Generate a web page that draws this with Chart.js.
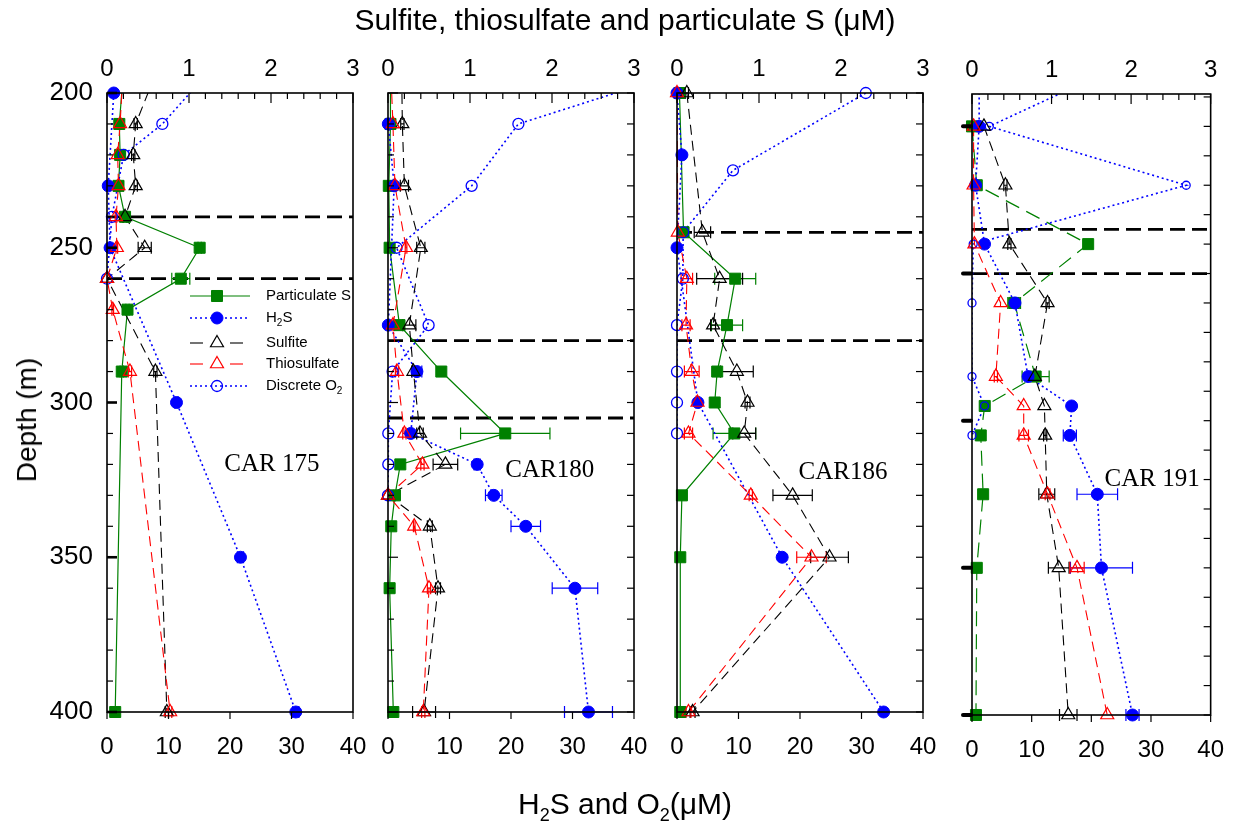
<!DOCTYPE html>
<html>
<head>
<meta charset="utf-8">
<title>Sulfur species profiles</title>
<script src="https://cdn.jsdelivr.net/npm/chart.js@4.4.1/dist/chart.umd.min.js"></script>
<style>
html,body{margin:0;padding:0;background:#fff;}
#wrap{position:relative;width:1245px;height:834px;overflow:hidden;font-family:"Liberation Sans",Arial,sans-serif;color:#000;}
#wrap canvas{position:absolute;left:0;top:0;width:1245px;height:834px;}
.txt{position:absolute;white-space:nowrap;}
.sb{font-size:0.6em;position:relative;top:0.38em;}
#topTitle{left:625px;top:4px;font-size:30px;line-height:32px;transform:translateX(-50%);}
#botTitle{left:625px;top:788px;font-size:30px;line-height:32px;transform:translateX(-50%);}
#yTitle{left:27px;top:420px;font-size:28px;line-height:30px;transform:translate(-50%,-50%) rotate(-90deg);}
</style>
</head>
<body>
<div id="wrap">
  <canvas id="p175" width="1245" height="834"></canvas>
  <canvas id="p180" width="1245" height="834"></canvas>
  <canvas id="p186" width="1245" height="834"></canvas>
  <canvas id="p191" width="1245" height="834"></canvas>
  <div class="txt" id="topTitle">Sulfite, thiosulfate and particulate S (μM)</div>
  <div class="txt" id="botTitle">H<span class="sb">2</span>S and O<span class="sb">2</span>(μM)</div>
  <div class="txt" id="yTitle">Depth (m)</div>
</div>
<script>
// ---------------- DATA ----------------
// Top axis (0-3 µM): particulate S, sulfite, thiosulfate. Bottom axis (0-40 µM): H2S, O2.
const topTicks = [0, 1, 2, 3];
const botTicks = [0, 10, 20, 30, 40];
const depthTicks = [200, 250, 300, 350, 400];

// CAR 175  (first row lies just above the plotted range)
const depth175    = [190, 200, 210, 220, 230, 240, 250, 260, 270, 290, 300, 350, 400];
const partS175    = [0.21, null, 0.15, 0.16, 0.14, 0.22, 1.13, 0.90, 0.25, 0.18, null, null, 0.10];
const partSErr175 = [null, null, 0.02, 0.02, 0.02, 0.03, 0.02, 0.11, 0.02, 0.02, null, null, 0.02];
const h2s175      = [null, 1.1, null, null, 0.2, null, 0.5, null, null, null, 11.3, 21.7, 30.7];
const h2sErr175   = [null, null, null, null, null, null, null, null, null, null, 0.3, 0.5, 0.5];
const sulf175     = [0.65, null, 0.35, 0.32, 0.35, 0.22, 0.46, 0.0, null, 0.59, null, null, 0.73];
const sulfErr175  = [null, null, 0.02, 0.02, 0.02, 0.02, 0.08, null, null, 0.02, null, null, 0.02];
const thio175     = [0.20, null, 0.16, 0.13, 0.14, 0.11, 0.12, 0.0, 0.07, 0.28, null, null, 0.77];
const thioErr175  = [null, null, 0.01, 0.01, 0.01, 0.01, 0.01, null, 0.01, 0.02, null, null, 0.02];
const o2175       = [18.0, null, 9.0, 2.7, null, 0.8, null, 0.0, null, null, null, null, null];
const dashed175   = [240, 260];

// CAR 180
const depth180    = [190, 210, 230, 250, 275, 290, 310, 320, 330, 340, 360, 400];
const partS180    = [0.03, 0.03, 0.01, 0.02, 0.14, 0.65, 1.43, 0.15, 0.085, 0.04, 0.02, 0.065];
const partSErr180 = [null, null, null, null, null, null, 0.545, null, null, null, null, 0.05];
const h2s180      = [null, 0.05, 1.0, null, 0.05, 4.7, 3.7, 14.5, 17.2, 22.4, 30.4, 32.6];
const h2sErr180   = [null, null, null, null, null, 0.8, null, 0.5, 1.35, 2.4, 3.7, 3.9];
const sulf180     = [0.165, 0.175, 0.2, 0.40, 0.26, 0.31, 0.39, 0.70, 0.0, 0.51, 0.61, 0.44];
const sulfErr180  = [null, 0.02, 0.05, 0.05, 0.08, 0.02, 0.04, 0.15, null, 0.03, 0.03, 0.14];
const thio180     = [0.03, 0.06, 0.085, 0.22, 0.06, 0.11, 0.2, 0.42, 0.0, 0.32, 0.50, 0.43];
const thioErr180  = [null, 0.01, 0.01, 0.01, 0.01, 0.02, 0.02, 0.02, null, 0.01, 0.02, 0.02];
const o2180       = [52.8, 21.2, 13.6, 1.4, 6.6, 0.75, 0.05, 0.05, 0.0, null, null, null];
const dashed180   = [280, 305];

// CAR 186
const depth186    = [200, 220, 225, 245, 250, 260, 275, 290, 300, 310, 330, 350, 400];
const partS186    = [0.03, null, null, 0.08, null, 0.71, 0.61, 0.49, 0.46, 0.70, 0.06, 0.04, 0.04];
const partSErr186 = [null, null, null, null, null, 0.25, 0.19, null, null, 0.26, null, null, null];
const h2s186      = [0.0, 0.8, null, null, 0.0, null, null, null, 3.4, null, null, 17.1, 33.6];
const h2sErr186   = [null, null, null, null, null, null, null, null, null, null, null, null, null];
const sulf186     = [0.12, null, null, 0.31, null, 0.52, 0.44, 0.73, 0.86, 0.82, 1.41, 1.86, 0.19];
const sulfErr186  = [0.02, null, null, 0.10, null, 0.28, 0.03, 0.20, 0.03, 0.14, 0.24, 0.23, 0.03];
const thio186     = [0.0, null, null, 0.01, null, 0.12, 0.11, 0.18, 0.25, 0.14, 0.90, 1.64, 0.14];
const thioErr186  = [null, null, null, null, null, 0.07, 0.05, 0.09, 0.02, 0.05, 0.02, 0.18, 0.03];
const o2186       = [30.7, null, 9.1, 1.0, null, 0.95, 0.0, 0.0, 0.0, 0.0, null, null, null];
const dashed186   = [245, 280];

// CAR 191 (own depth axis, 189-400 m; first row lies above it)
const depth191    = [180, 200, 220, 240, 260, 285, 295, 305, 325, 350, 400];
const partS191    = [null, 0.0, 0.06, 1.46, 0.53, 0.80, 0.16, 0.11, 0.14, 0.06, 0.05];
const partSErr191 = [null, null, null, null, 0.08, 0.17, null, null, null, null, null];
const h2s191      = [1.2, 1.2, 0.6, 2.1, 7.2, 9.4, 16.7, 16.4, 21.0, 21.7, 26.9];
const h2sErr191   = [null, null, null, null, null, null, null, 1.1, 3.4, 5.2, 1.1];
const sulf191     = [null, 0.15, 0.42, 0.47, 0.95, 0.79, 0.91, 0.92, 0.94, 1.09, 1.21];
const sulfErr191  = [null, null, 0.02, 0.02, 0.02, null, null, 0.02, 0.10, 0.13, 0.11];
const thio191     = [null, 0.02, 0.02, 0.03, 0.36, 0.30, 0.65, 0.65, 0.95, 1.32, 1.70];
const thioErr191  = [null, null, null, null, null, 0.02, null, 0.06, 0.03, 0.09, null];
const o2191       = [24.2, 2.9, 35.9, 0.2, 0.0, 0.0, 2.1, 0.0, null, null, null];
const dashed191   = [235, 250];

const legendItems = ['Particulate S', 'H2S', 'Sulfite', 'Thiosulfate', 'Discrete O2'];

// ---------------- RENDERING ----------------
Chart.defaults.font.family = '"Liberation Sans", Arial, sans-serif';
Chart.defaults.color = '#000';
Chart.defaults.animation = false;

const GREEN = '#008000', BLUE = '#0000ff', RED = '#ff0000', BLACK = '#000000';
const TOP_BOX = 50, BOT_BOX = 60, LEFT_BOX = 70;

function marker(ctx, style, x, y, r) {
  ctx.beginPath();
  if (style === 'rect') {
    const s = r * Math.SQRT1_2;
    ctx.rect(x - s, y - s, 2 * s, 2 * s);
  } else if (style === 'triangle') {
    let rad = 0;
    ctx.moveTo(x + Math.sin(rad) * r, y - Math.cos(rad) * r);
    rad += 2 * Math.PI / 3;
    ctx.lineTo(x + Math.sin(rad) * r, y - Math.cos(rad) * r);
    rad += 2 * Math.PI / 3;
    ctx.lineTo(x + Math.sin(rad) * r, y - Math.cos(rad) * r);
    ctx.closePath();
  } else {
    ctx.arc(x, y, r, 0, Math.PI * 2);
  }
  ctx.fill();
  ctx.stroke();
}

function subText(ctx, parts, x, y, size) {
  let cx = x;
  parts.forEach(([t, sub]) => {
    ctx.font = (sub ? Math.round(size * 0.65) : size) + 'px "Liberation Sans", Arial, sans-serif';
    ctx.fillText(t, cx, sub ? y + size * 0.35 : y);
    cx += ctx.measureText(t).width;
  });
}

const decorPlugin = {
  id: 'decor',
  beforeDatasetsDraw(chart, args, o) {
    const ctx = chart.ctx, a = chart.chartArea, ys = chart.scales.y;
    ctx.save();
    ctx.beginPath();
    ctx.rect(a.left, a.top, a.right - a.left, a.bottom - a.top);
    ctx.clip();
    ctx.setLineDash([15, 7]);
    ctx.lineWidth = 2.8;
    ctx.strokeStyle = '#000';
    (o.dashed || []).forEach(d => {
      const y = ys.getPixelForValue(d);
      ctx.beginPath(); ctx.moveTo(a.left, y); ctx.lineTo(a.right, y); ctx.stroke();
    });
    ctx.restore();
    // error bars
    ctx.save();
    ctx.setLineDash([]);
    ctx.lineWidth = 1.2;
    chart.data.datasets.forEach(ds => {
      if (!ds.errColor) return;
      const xs = chart.scales[ds.xAxisID];
      ctx.strokeStyle = ds.errColor;
      ds.data.forEach(p => {
        if (p.e === null || p.e === undefined) return;
        const y = ys.getPixelForValue(p.y);
        const x1 = xs.getPixelForValue(p.x - p.e), x2 = xs.getPixelForValue(p.x + p.e);
        ctx.beginPath();
        ctx.moveTo(x1, y); ctx.lineTo(x2, y);
        ctx.moveTo(x1, y - 6); ctx.lineTo(x1, y + 6);
        ctx.moveTo(x2, y - 6); ctx.lineTo(x2, y + 6);
        ctx.stroke();
      });
    });
    ctx.restore();
  },
  afterDraw(chart, args, o) {
    const ctx = chart.ctx, a = chart.chartArea, ys = chart.scales.y;
    const xt = chart.scales.xTop, xb = chart.scales.xBot;
    const seg = (x1, y1, x2, y2) => { ctx.beginPath(); ctx.moveTo(x1, y1); ctx.lineTo(x2, y2); ctx.stroke(); };
    ctx.save();
    ctx.setLineDash([]);
    ctx.strokeStyle = '#000';
    ctx.lineWidth = 1.6;
    ctx.strokeRect(a.left, a.top, a.right - a.left, a.bottom - a.top);
    // top ticks, inward
    ctx.lineWidth = 1.2;
    for (let k = 0; k <= 15; k++) {
      const x = xt.getPixelForValue(k * 0.2);
      seg(x, a.top, x, a.top + (k % 5 === 0 ? 10 : 6));
    }
    // bottom ticks, outward
    botTicks.forEach(v => { const x = xb.getPixelForValue(v); seg(x, a.bottom, x, a.bottom + 7); });
    // depth ticks
    for (let d = Math.ceil(ys.min / 10) * 10; d <= ys.max; d += 10) {
      const y = ys.getPixelForValue(d);
      const major = d % 50 === 0;
      if (o.leftTicks) {
        ctx.lineWidth = (major && o.leftMajorBold) ? 2.6 : 1.2;
        seg(a.left, y, a.left + (major ? 10 : 6), y);
      }
      if (o.rightTicks) { ctx.lineWidth = 1.2; seg(a.right - 7, y, a.right, y); }
      if (o.leftOut && major) {
        ctx.lineWidth = 4; ctx.lineCap = 'round';
        seg(a.left - 9, y, a.left - 1, y);
        ctx.lineCap = 'butt';
      }
    }
    // cruise label
    ctx.fillStyle = '#000';
    ctx.font = '25px "Liberation Serif", "Times New Roman", serif';
    ctx.textAlign = 'center';
    ctx.textBaseline = 'middle';
    ctx.fillText(o.label, xb.getPixelForValue(o.labelAt.x), ys.getPixelForValue(o.labelAt.y));
    // legend
    if (o.legend) {
      const L = o.legend;
      const rows = L.rows;
      ctx.textAlign = 'left';
      ctx.textBaseline = 'middle';
      ctx.strokeStyle = GREEN; ctx.fillStyle = GREEN; ctx.lineWidth = 1.2; ctx.setLineDash([]);
      seg(L.x0, rows[0], L.x1, rows[0]);
      ctx.lineWidth = 1; marker(ctx, 'rect', L.xm, rows[0], 7.8);
      ctx.strokeStyle = BLUE; ctx.fillStyle = BLUE; ctx.lineWidth = 1.6; ctx.setLineDash([2, 3]);
      seg(L.x0, rows[1], L.x1, rows[1]);
      ctx.setLineDash([]); ctx.lineWidth = 1; marker(ctx, 'circle', L.xm, rows[1], 6);
      ctx.strokeStyle = BLACK; ctx.fillStyle = 'rgba(0,0,0,0)'; ctx.lineWidth = 1.1;
      seg(L.x0, rows[2], L.x0 + 13, rows[2]); seg(L.xm + 13, rows[2], L.xm + 26, rows[2]);
      ctx.lineWidth = 1.2; marker(ctx, 'triangle', L.xm, rows[2], 7.5);
      ctx.strokeStyle = RED; ctx.lineWidth = 1.1;
      seg(L.x0, rows[3], L.x0 + 13, rows[3]); seg(L.xm + 13, rows[3], L.xm + 26, rows[3]);
      ctx.lineWidth = 1.2; marker(ctx, 'triangle', L.xm, rows[3], 7.5);
      ctx.strokeStyle = BLUE; ctx.lineWidth = 1.6; ctx.setLineDash([2, 3]);
      seg(L.x0, rows[4], L.x1 - 3, rows[4]);
      ctx.setLineDash([]); ctx.lineWidth = 1.3; ctx.fillStyle = 'rgba(0,0,0,0)';
      marker(ctx, 'circle', L.xm, rows[4], 5.5);
      ctx.fillStyle = '#000';
      subText(ctx, [[legendItems[0], false]], L.xt, rows[0], 15);
      subText(ctx, [['H', false], ['2', true], ['S', false]], L.xt, rows[1], 15);
      subText(ctx, [[legendItems[2], false]], L.xt, rows[2], 15);
      subText(ctx, [[legendItems[3], false]], L.xt, rows[3], 15);
      subText(ctx, [['Discrete O', false], ['2', true]], L.xt, rows[4], 15);
    }
    ctx.restore();
  }
};
Chart.register(decorPlugin);

function buildPanel(P) {
  const inRange = d => d >= P.yMin && d <= P.yMax;
  const series = [
    {key: 'Particulate S', vals: P.partS, errs: P.partSErr, axis: 'xTop', color: GREEN, dash: P.partSDash, lw: 1.2, style: 'rect', r: 7.8, fill: GREEN, bw: 1, order: 4},
    {key: 'Discrete O2', vals: P.o2, errs: null, axis: 'xBot', color: BLUE, dash: [2, 3], lw: 1.6, style: 'circle', r: P.o2R, fill: 'rgba(0,0,0,0)', bw: 1.3, order: 3},
    {key: 'H2S', vals: P.h2s, errs: P.h2sErr, axis: 'xBot', color: BLUE, dash: [2, 3], lw: 1.6, style: 'circle', r: 6, fill: BLUE, bw: 1, order: 2},
    {key: 'Sulfite', vals: P.sulf, errs: P.sulfErr, axis: 'xTop', color: BLACK, dash: [10, 6], lw: 1.1, style: 'triangle', r: 7.5, fill: 'rgba(0,0,0,0)', bw: 1.2, order: 1},
    {key: 'Thiosulfate', vals: P.thio, errs: P.thioErr, axis: 'xTop', color: RED, dash: [10, 6], lw: 1.1, style: 'triangle', r: 7.5, fill: 'rgba(0,0,0,0)', bw: 1.2, order: 0}
  ];
  const datasets = [];
  series.forEach(s => {
    const line = [], pts = [];
    P.depth.forEach((d, i) => {
      const v = s.vals[i];
      if (v === null || v === undefined) return;
      line.push({x: v, y: d});
      if (inRange(d)) pts.push({x: v, y: d, e: s.errs ? s.errs[i] : null});
    });
    datasets.push({
      label: s.key + ' line', data: line, xAxisID: s.axis, yAxisID: 'y',
      showLine: true, borderColor: s.color, borderWidth: s.lw, borderDash: s.dash,
      pointRadius: 0, pointHoverRadius: 0, order: 100 + s.order, tension: 0, fill: false
    });
    datasets.push({
      label: s.key, data: pts, xAxisID: s.axis, yAxisID: 'y', showLine: false,
      pointStyle: s.style, pointRadius: s.r, pointHoverRadius: s.r,
      pointBackgroundColor: s.fill, pointBorderColor: s.color, pointBorderWidth: s.bw,
      order: s.order, clip: false, errColor: s.color
    });
  });
  const A = P.area;
  return new Chart(document.getElementById(P.id), {
    type: 'scatter',
    data: {datasets},
    options: {
      responsive: false,
      devicePixelRatio: 1,
      animation: false,
      events: [],
      layout: {padding: {left: A.left - LEFT_BOX, right: 1245 - A.right, top: A.top - TOP_BOX, bottom: 834 - A.bottom - BOT_BOX}},
      plugins: {
        legend: {display: false},
        tooltip: {enabled: false},
        decor: P.decor
      },
      scales: {
        xTop: {
          type: 'linear', position: 'top', min: topTicks[0], max: topTicks[topTicks.length - 1],
          afterBuildTicks: s => { s.ticks = topTicks.map(v => ({value: v})); },
          ticks: {padding: 9, font: {size: 24}, maxRotation: 0, autoSkip: false, color: '#000'},
          grid: {display: false, drawTicks: false}, border: {display: false},
          afterFit: s => { s.height = TOP_BOX; }
        },
        xBot: {
          type: 'linear', position: 'bottom', min: botTicks[0], max: botTicks[botTicks.length - 1],
          afterBuildTicks: s => { s.ticks = botTicks.map(v => ({value: v})); },
          ticks: {padding: 21, font: {size: 24}, maxRotation: 0, autoSkip: false, color: '#000'},
          grid: {display: false, drawTicks: false}, border: {display: false},
          afterFit: s => { s.height = BOT_BOX; }
        },
        y: {
          type: 'linear', position: 'left', reverse: true, min: P.yMin, max: P.yMax,
          afterBuildTicks: s => { s.ticks = depthTicks.map(v => ({value: v})); },
          ticks: {display: P.showY, padding: 14, font: {size: 26}, autoSkip: false, color: '#000'},
          grid: {display: false, drawTicks: false}, border: {display: false},
          afterFit: s => { s.width = LEFT_BOX; }
        }
      }
    }
  });
}

const legendBox = {x0: 190, x1: 250, xm: 217, xt: 266, rows: [296, 318, 343, 364, 386]};

buildPanel({
  id: 'p175', area: {left: 107, right: 353, top: 93, bottom: 712}, yMin: 200, yMax: 400, showY: true,
  depth: depth175, partS: partS175, partSErr: partSErr175, h2s: h2s175, h2sErr: h2sErr175,
  sulf: sulf175, sulfErr: sulfErr175, thio: thio175, thioErr: thioErr175, o2: o2175,
  partSDash: [], o2R: 5.5,
  decor: {dashed: dashed175, label: 'CAR 175', labelAt: {x: 26.8, y: 320}, leftTicks: true, leftMajorBold: true, rightTicks: false, leftOut: false, legend: legendBox}
});
buildPanel({
  id: 'p180', area: {left: 388, right: 634, top: 93, bottom: 712}, yMin: 200, yMax: 400, showY: false,
  depth: depth180, partS: partS180, partSErr: partSErr180, h2s: h2s180, h2sErr: h2sErr180,
  sulf: sulf180, sulfErr: sulfErr180, thio: thio180, thioErr: thioErr180, o2: o2180,
  partSDash: [], o2R: 5.5,
  decor: {dashed: dashed180, label: 'CAR180', labelAt: {x: 26.3, y: 322}, leftTicks: true, leftMajorBold: false, rightTicks: true, leftOut: false, legend: null}
});
buildPanel({
  id: 'p186', area: {left: 677, right: 923, top: 93, bottom: 712}, yMin: 200, yMax: 400, showY: false,
  depth: depth186, partS: partS186, partSErr: partSErr186, h2s: h2s186, h2sErr: h2sErr186,
  sulf: sulf186, sulfErr: sulfErr186, thio: thio186, thioErr: thioErr186, o2: o2186,
  partSDash: [], o2R: 5.5,
  decor: {dashed: dashed186, label: 'CAR186', labelAt: {x: 27.0, y: 322.5}, leftTicks: false, leftMajorBold: false, rightTicks: true, leftOut: false, legend: null}
});
buildPanel({
  id: 'p191', area: {left: 972, right: 1217, top: 94, bottom: 715}, yMin: 189, yMax: 400, showY: false,
  depth: depth191, partS: partS191, partSErr: partSErr191, h2s: h2s191, h2sErr: h2sErr191,
  sulf: sulf191, sulfErr: sulfErr191, thio: thio191, thioErr: thioErr191, o2: o2191,
  partSDash: [15, 8], o2R: 4,
  decor: {dashed: dashed191, label: 'CAR 191', labelAt: {x: 30.2, y: 320}, leftTicks: false, leftMajorBold: false, rightTicks: true, leftOut: true, legend: null}
});
</script>
</body>
</html>
